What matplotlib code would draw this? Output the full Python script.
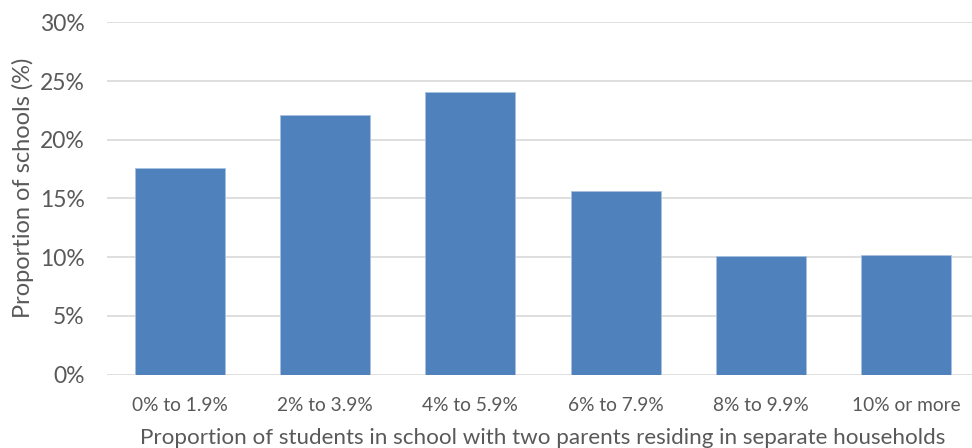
import matplotlib.pyplot as plt
from matplotlib.ticker import PercentFormatter

# share of schools in each band
bands = ["0% to 1.9%", "2% to 3.9%", "4% to 5.9%", "6% to 7.9%", "8% to 9.9%", "10% or more"]
share = [17.6, 22.1, 24.1, 15.65, 10.07, 10.2]

plt.rcParams['font.family'] = ['Lato', 'DejaVu Sans']
grey = '#595959'

fig = plt.figure(figsize=(9.72, 4.48), dpi=100)
ax = fig.add_axes([107 / 972, (448 - 374.5) / 448, 872 / 972, 352.2 / 448])

ax.bar(range(len(bands)), share, width=0.62, color='#4f81bd', edgecolor='#a9c1e0',
       linewidth=0.6, zorder=3)

ax.set_xlim(-0.5, len(bands) - 0.5)
ax.set_ylim(0, 30)
ax.set_yticks(range(0, 31, 5))
ax.yaxis.set_major_formatter(PercentFormatter(decimals=0))
ax.set_xticks(range(len(bands)))
ax.set_xticklabels(bands)

ax.grid(axis='y', color='#d9d9d9', linewidth=1.2, zorder=0)
for s in ax.spines.values():
    s.set_visible(False)
ax.tick_params(length=0, colors=grey)
ax.tick_params(axis='y', labelsize=16.5, pad=16)
ax.tick_params(axis='x', labelsize=13.8, pad=16)

ax.set_ylabel("Proportion of schools (%)", fontsize=17, color=grey)
ax.yaxis.set_label_coords(-73 / 872, 0.5 + (352.2 / 2 - 166) / 352.2)
ax.set_xlabel("Proportion of students in school with two parents residing in separate households",
              fontsize=16.1, color=grey, labelpad=10)

fig.savefig('out.png', dpi=100)
